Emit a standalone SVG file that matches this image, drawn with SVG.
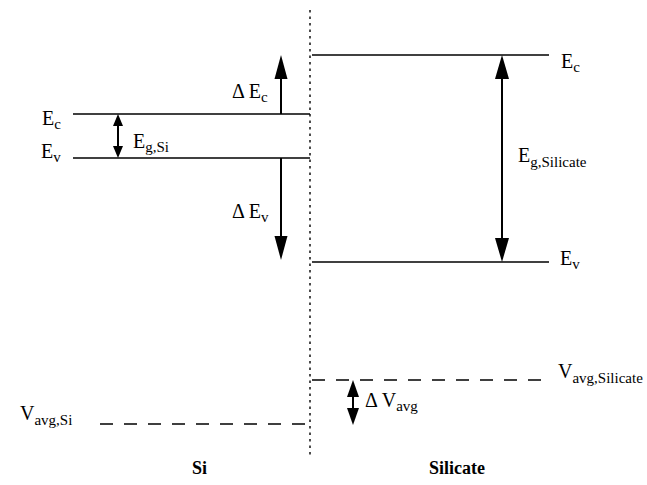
<svg xmlns="http://www.w3.org/2000/svg" width="647" height="485" viewBox="0 0 647 485" font-family="'Liberation Serif', 'Times New Roman', 'DejaVu Serif', serif">
<style>
.lvl{stroke:#000;stroke-width:1.4;fill:none}
.dash{stroke:#000;stroke-width:1.4;fill:none;stroke-dasharray:13,11}
.dot{stroke:#000;stroke-width:1.4;fill:none;stroke-dasharray:2.5,4}
.shaft{stroke:#000;stroke-width:2;fill:none}
.head{fill:#000;stroke:none}
text{font-family:'Liberation Serif','Times New Roman','DejaVu Serif',serif;font-size:20px;fill:#000}
.sub{font-size:15px}
.bold{font-weight:bold;font-size:18px}
</style>
<g id="interface"><line class="dot" x1="310" y1="10" x2="310" y2="455"/></g>
<g id="si-ec"><line class="lvl" x1="73" y1="114" x2="310" y2="114"/><text x="42" y="125">E<tspan class="sub" dy="4">c</tspan></text></g>
<g id="si-ev"><line class="lvl" x1="73" y1="158" x2="310" y2="158"/><text x="41" y="158">E<tspan class="sub" dy="4">v</tspan></text></g>
<g id="sil-ec"><line class="lvl" x1="312" y1="55" x2="549" y2="55"/><text x="561" y="68">E<tspan class="sub" dy="4">c</tspan></text></g>
<g id="sil-ev"><line class="lvl" x1="312" y1="262" x2="549" y2="262"/><text x="560" y="265">E<tspan class="sub" dy="4">v</tspan></text></g>
<g id="vavg-sil"><line class="dash" x1="312" y1="380" x2="549" y2="380"/><text x="558" y="378">V<tspan class="sub" dy="5">avg,Silicate</tspan></text></g>
<g id="vavg-si"><line class="dash" x1="100" y1="424" x2="310" y2="424"/><text x="20" y="420">V<tspan class="sub" dy="5">avg,Si</tspan></text></g>
<g id="label-si"><text class="bold" x="192" y="474">Si</text></g>
<g id="label-silicate"><text class="bold" x="429" y="474">Silicate</text></g>
<g id="connectors">
<g id="eg-si">
<line class="shaft" x1="118" y1="124" x2="118" y2="148"/>
<polygon class="head" points="118,114 113,126 123,126"/>
<polygon class="head" points="118,158 113,146 123,146"/>
</g>
<g id="dec">
<line class="shaft" x1="281" y1="114" x2="281" y2="75"/>
<polygon class="head" points="281,55 274.5,79 287.5,79"/>
</g>
<g id="dev">
<line class="shaft" x1="281" y1="158" x2="281" y2="240"/>
<polygon class="head" points="281,260 274.5,236 287.5,236"/>
</g>
<g id="eg-sil">
<line class="shaft" x1="502" y1="75" x2="502" y2="243"/>
<polygon class="head" points="502,55 495,79 509,79"/>
<polygon class="head" points="502,262 495,238 509,238"/>
</g>
<g id="dvavg">
<line class="shaft" x1="353" y1="392" x2="353" y2="412"/>
<polygon class="head" points="353,380 347,397 359,397"/>
<polygon class="head" points="353,425 347,408 359,408"/>
</g>
</g>
<g id="connector-labels">
<text x="133" y="148">E<tspan class="sub" dy="4">g,Si</tspan></text>
<text x="518" y="162">E<tspan class="sub" dy="5">g,Silicate</tspan></text>
<text x="232" y="98">Δ E<tspan class="sub" dy="4">c</tspan></text>
<text x="232" y="218">Δ E<tspan class="sub" dy="4">v</tspan></text>
<text x="365" y="407">Δ V<tspan class="sub" dy="4">avg</tspan></text>
</g>
</svg>
